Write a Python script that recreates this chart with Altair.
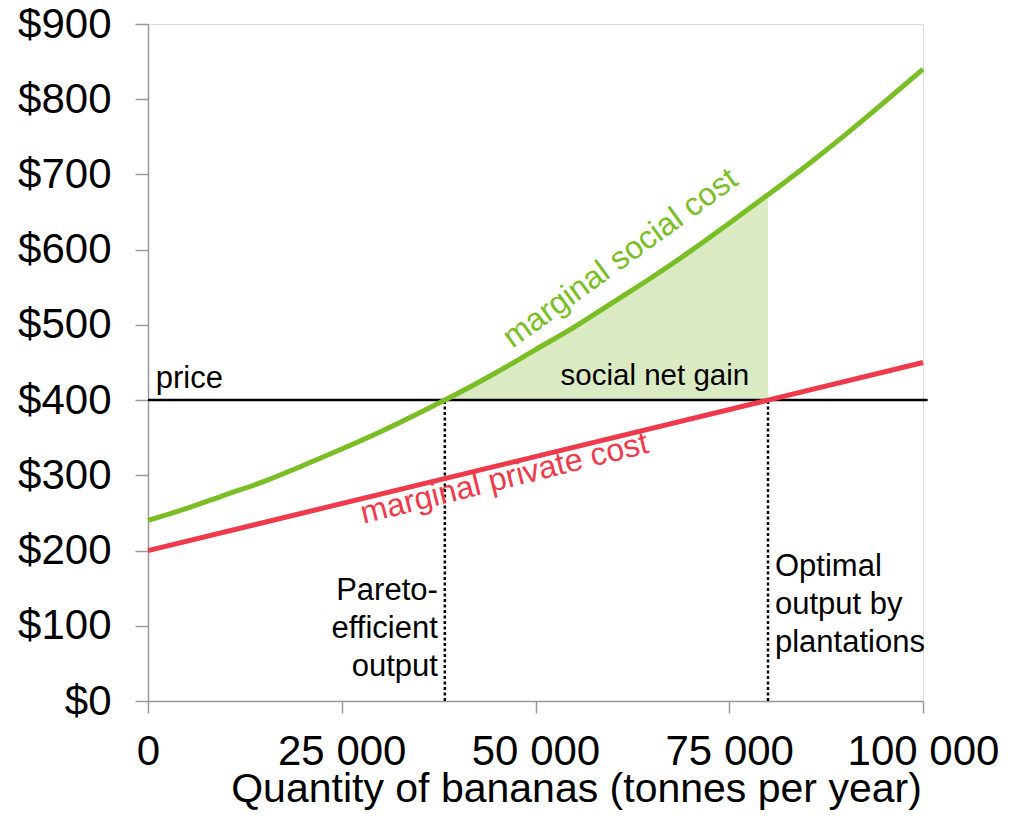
import altair as alt
import pandas as pd

# ---- data ----
quantity = [0, 5000, 10000, 15000, 20000, 25000, 30000, 35000, 38300, 40000,
            45000, 50000, 55000, 60000, 65000, 70000, 75000, 80000, 85000,
            90000, 95000, 100000]
social_cost = [240, 256, 274, 292, 313, 335, 358, 383, 400, 409,
               437, 467, 497, 530, 563, 598, 635, 673, 712,
               753, 796, 840]
private_quantity = [0, 80000, 100000]
private_cost = [200, 400, 450]
price = 400
pareto_q = 38300
optimal_q = 80000
x_ticks = [0, 25000, 50000, 75000, 100000]
y_ticks = [0, 100, 200, 300, 400, 500, 600, 700, 800, 900]

FONT = "Liberation Sans"
GREEN = "#79BE24"
RED = "#EF3A4B"
FILL = "#DAEBC4"
AXIS_GREY = "#999999"

msc = pd.DataFrame({"q": quantity, "cost": social_cost})
mpc = pd.DataFrame({"q": private_quantity, "cost": private_cost})
gain = msc[(msc.q >= pareto_q) & (msc.q <= optimal_q)].copy()
gain["base"] = price

xscale = alt.Scale(domain=[0, 100000], nice=False, zero=False)
yscale = alt.Scale(domain=[0, 900], nice=False)

xaxis = alt.Axis(
    values=x_ticks,
    labelExpr="datum.value == 0 ? '0' : format(datum.value / 1000, 'd') + ' 000'",
    title="Quantity of bananas (tonnes per year)",
    titleFont=FONT, titleFontSize=41, titleFontWeight="normal", titleColor="black",
    titleBaseline="alphabetic", titleY=100, titleX=428, titleAlign="center",
    labelFont=FONT, labelFontSize=42, labelColor="black",
    labelBaseline="alphabetic", labelPadding=51,
    tickSize=12, tickColor=AXIS_GREY, tickWidth=1.5,
    domainColor=AXIS_GREY, domainWidth=1.5, grid=False, labelFlush=False,
)
yaxis = alt.Axis(
    values=y_ticks,
    labelExpr="'$' + datum.value",
    title=None,
    labelFont=FONT, labelFontSize=42, labelColor="black", labelPadding=24,
    tickSize=13, tickColor=AXIS_GREY, tickWidth=1.5,
    domainColor=AXIS_GREY, domainWidth=1.5, grid=False,
)

X = lambda f: alt.X(f, type="quantitative", scale=xscale, axis=xaxis)
Y = lambda f: alt.Y(f, type="quantitative", scale=yscale, axis=yaxis)

fill = alt.Chart(gain).mark_area(color=FILL, opacity=1).encode(
    x=X("q"), y=Y("cost"), y2="base"
)

price_line = alt.Chart(pd.DataFrame({"a": [0], "b": [100600], "p": [price]})).mark_rule(
    color="black", strokeWidth=2.5, clip=False
).encode(x=X("a"), x2="b", y=Y("p"))

dotted = alt.Chart(pd.DataFrame({"q": [pareto_q, optimal_q], "lo": [0, 0], "hi": [price, price]})).mark_rule(
    color="black", strokeWidth=2.5, strokeDash=[3, 2.5]
).encode(x=X("q"), y=Y("lo"), y2="hi")

red = alt.Chart(mpc).mark_line(color=RED, strokeWidth=5).encode(x=X("q"), y=Y("cost"))
green = alt.Chart(msc).mark_line(color=GREEN, strokeWidth=5, interpolate="monotone").encode(
    x=X("q"), y=Y("cost")
)

def label(text, xq, yc, **kw):
    props = dict(font=FONT, fontSize=31, color="black", baseline="alphabetic")
    props.update(kw)
    return alt.Chart().mark_text(text=text, **props).encode(
        x=alt.datum(xq), y=alt.datum(yc)
    )

labels = [
    label("price", 1000, 416, align="left"),
    label("social net gain", 65400, 420, align="center", fontSize=29.5),
    label("marginal social cost", 61700, 578, align="center", angle=324, color=GREEN, fontSize=32),
    label("marginal private cost", 46300, 283, align="center", angle=346, color=RED, fontSize=32),
    label(["Pareto-", "efficient", "output"], 37400, 134, align="right", lineHeight=38),
    label(["Optimal", "output by", "plantations"], 80900, 166, align="left", lineHeight=38),
]

chart = alt.layer(fill, price_line, dotted, red, green, *labels).properties(
    width=775, height=677,
    autosize=alt.AutoSizeParams(type="none"),
    padding={"left": 140, "top": 16, "right": 78, "bottom": 111},
).configure_view(stroke=None).configure(background="white")

chart.save("out.html", embed_options={"renderer": "svg", "actions": False})
